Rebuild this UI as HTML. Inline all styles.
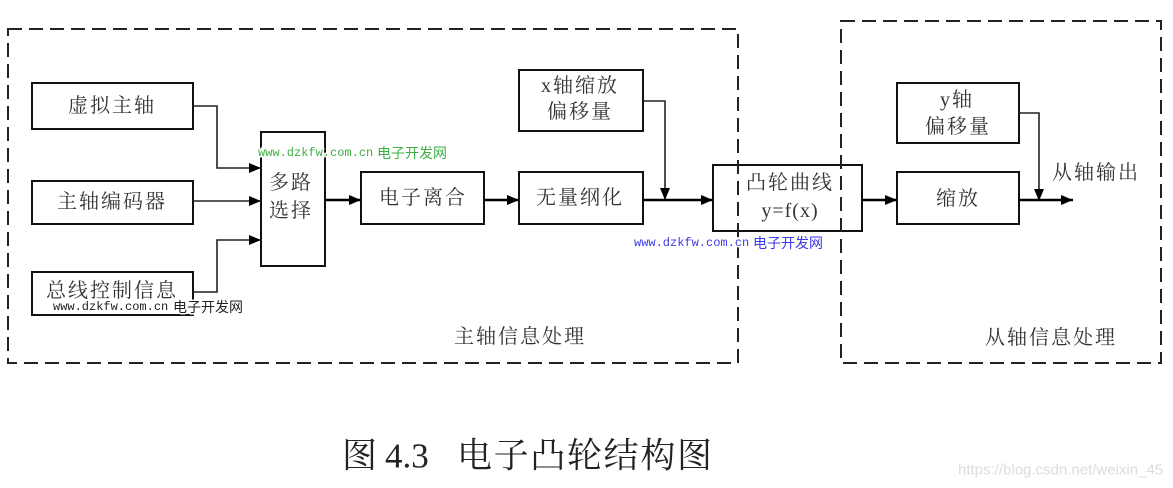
<!DOCTYPE html>
<html><head><meta charset="utf-8">
<style>
html,body{margin:0;padding:0;background:#fff;}
svg{display:block;}
.t{font-family:"Liberation Serif","Noto Serif CJK SC",serif;font-size:20px;fill:#333;letter-spacing:2px;}
.wm{font-family:"Liberation Mono","Noto Sans CJK SC",monospace;font-size:12px;}
.wc{font-family:"Liberation Sans","Noto Sans CJK SC",sans-serif;font-size:15px;}
.cap{font-family:"Liberation Serif","Noto Serif CJK SC",serif;font-size:35px;fill:#222;}
</style></head>
<body>
<svg width="1173" height="488" viewBox="0 0 1173 488" xmlns="http://www.w3.org/2000/svg">
<defs>
<marker id="ah" markerWidth="12" markerHeight="10" refX="12" refY="5" orient="auto" markerUnits="userSpaceOnUse">
<path d="M0,0 L12,5 L0,10 Z" fill="#000"/>
</marker>
</defs>

<!-- boxes -->
<g fill="#fff" stroke="#111" stroke-width="2">
<rect x="32" y="83" width="161" height="46"/>
<rect x="32" y="181" width="161" height="43"/>
<rect x="32" y="272" width="161" height="43"/>
<rect x="261" y="132" width="64" height="134"/>
<rect x="361" y="172" width="123" height="52"/>
<rect x="519" y="172" width="124" height="52"/>
<rect x="519" y="70" width="124" height="61"/>
<rect x="713" y="165" width="149" height="66"/>
<rect x="897" y="172" width="122" height="52"/>
<rect x="897" y="83" width="122" height="60"/>
</g>

<!-- dashed regions -->
<g fill="none" stroke="#222" stroke-width="2" stroke-dasharray="14 7">
<rect x="8" y="29" width="730" height="334"/>
<rect x="841" y="21" width="320" height="342"/>
</g>

<!-- connectors -->
<g fill="none" stroke="#222" stroke-width="1.6">
<polyline points="193,106 217,106 217,168 261,168" marker-end="url(#ah)"/>
<polyline points="193,201 261,201" marker-end="url(#ah)"/>
<polyline points="193,292 217,292 217,240 261,240" marker-end="url(#ah)"/>
<polyline points="643,101 665,101 665,200" marker-end="url(#ah)"/>
<polyline points="1019,113 1039,113 1039,201" marker-end="url(#ah)"/>
</g>
<g fill="none" stroke="#000" stroke-width="2.5">
<line x1="325" y1="200" x2="361" y2="200" marker-end="url(#ah)"/>
<line x1="484" y1="200" x2="519" y2="200" marker-end="url(#ah)"/>
<line x1="643" y1="200" x2="713" y2="200" marker-end="url(#ah)"/>
<line x1="862" y1="200" x2="897" y2="200" marker-end="url(#ah)"/>
<line x1="1019" y1="200" x2="1073" y2="200" marker-end="url(#ah)"/>
</g>

<!-- labels -->
<g class="t" text-anchor="middle" dominant-baseline="central">
<text x="112" y="106">虚拟主轴</text>
<text x="112" y="202">主轴编码器</text>
<text x="112" y="291">总线控制信息</text>
<text x="291" y="183">多路</text>
<text x="291" y="211">选择</text>
<text x="423" y="198">电子离合</text>
<text x="580" y="198">无量纲化</text>
<text x="580" y="86">x轴缩放</text>
<text x="580" y="112">偏移量</text>
<text x="790" y="183">凸轮曲线</text>
<text x="790" y="211" style="letter-spacing:1px">y=f(x)</text>
<text x="958" y="199">缩放</text>
<text x="957" y="100">y轴</text>
<text x="958" y="127">偏移量</text>
<text x="1096" y="173">从轴输出</text>
<text x="520" y="337">主轴信息处理</text>
<text x="1051" y="338">从轴信息处理</text>
</g>

<!-- watermarks -->
<g stroke="#fff" stroke-width="3" paint-order="stroke" dominant-baseline="central">
<text class="wm" x="258" y="153" fill="#3cb043">www.dzkfw.com.cn<tspan x="377" style="font-family:'Noto Sans CJK SC',sans-serif;font-size:14px">电子开发网</tspan></text>
<text class="wm" x="634" y="243" fill="#3a3ae8">www.dzkfw.com.cn<tspan x="753" style="font-family:'Noto Sans CJK SC',sans-serif;font-size:14px">电子开发网</tspan></text>
<text class="wm" x="53" y="307" fill="#222">www.dzkfw.com.cn<tspan x="173" style="font-family:'Noto Sans CJK SC',sans-serif;font-size:14px">电子开发网</tspan></text>
</g>

<!-- caption -->
<g class="cap" dominant-baseline="central">
<text x="342" y="456">图</text>
<text x="385" y="456">4.3</text>
<text x="457" y="456" textLength="255" lengthAdjust="spacing">电子凸轮结构图</text>
</g>
<text class="wc" x="958" y="470" dominant-baseline="central" fill="#dcdcdc">https://blog.csdn.net/weixin_45</text>
</svg>
</body></html>
